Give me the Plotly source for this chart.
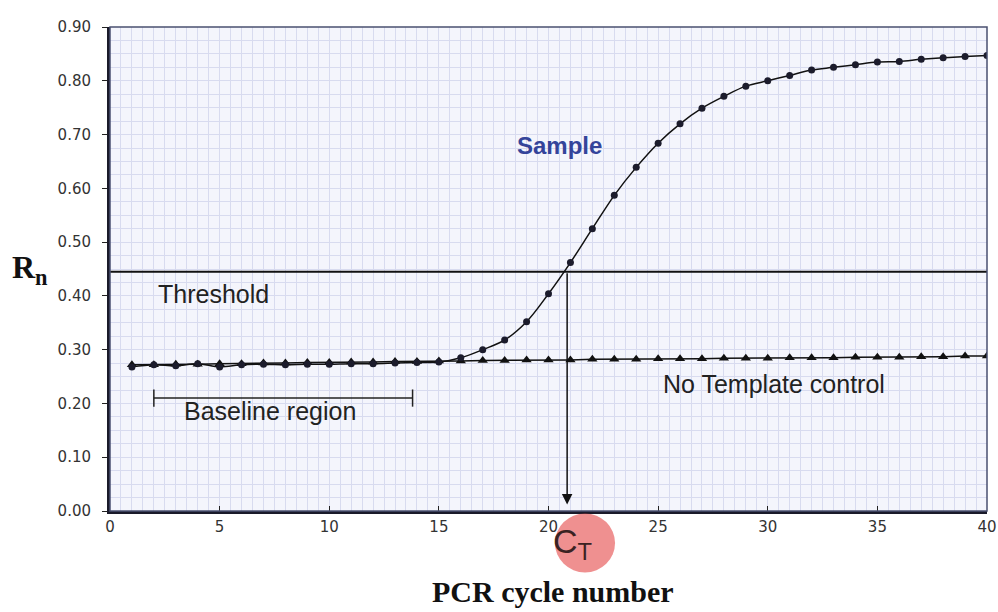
import plotly.graph_objects as go

cycles = list(range(1, 41))
sample_rn = [0.268, 0.272, 0.270, 0.274, 0.268, 0.272, 0.273, 0.272, 0.273, 0.273,
             0.274, 0.274, 0.275, 0.276, 0.277, 0.285, 0.300, 0.318, 0.352, 0.404,
             0.462, 0.525, 0.587, 0.639, 0.684, 0.720, 0.749, 0.771, 0.790, 0.800,
             0.810, 0.820, 0.825, 0.830, 0.835, 0.836, 0.840, 0.843, 0.845, 0.847]
ntc_rn = [0.272, 0.272, 0.273, 0.273, 0.274, 0.274, 0.275, 0.275, 0.276, 0.276,
          0.277, 0.277, 0.278, 0.278, 0.279, 0.279, 0.280, 0.280, 0.281, 0.281,
          0.281, 0.282, 0.282, 0.282, 0.283, 0.283, 0.283, 0.284, 0.284, 0.284,
          0.285, 0.285, 0.285, 0.286, 0.286, 0.286, 0.287, 0.287, 0.288, 0.288]
threshold = 0.445
ct_value = 20.85
baseline_start = 2.0
baseline_end = 13.8
baseline_level = 0.210
x_ticks = [0, 5, 10, 15, 20, 25, 30, 35, 40]
y_ticks = [0.0, 0.1, 0.2, 0.3, 0.4, 0.5, 0.6, 0.7, 0.8, 0.9]

tick_font = dict(family="DejaVu Sans, Verdana, sans-serif", size=15, color="#333333")
label_font = dict(family="Liberation Sans, Arial, sans-serif", size=25, color="#222")
serif_font = dict(family="Liberation Serif, Times New Roman, serif", color="#111")

fig = go.Figure()

# threshold line
fig.add_trace(go.Scatter(x=[0, 40], y=[threshold, threshold], mode="lines",
                         line=dict(color="#111", width=2), hoverinfo="skip"))

# baseline bracket
fig.add_trace(go.Scatter(
    x=[baseline_start, baseline_start, None, baseline_start, baseline_end, None, baseline_end, baseline_end],
    y=[baseline_level + 0.016, baseline_level - 0.016, None, baseline_level, baseline_level, None,
       baseline_level + 0.016, baseline_level - 0.016],
    mode="lines", line=dict(color="#222", width=1.5), hoverinfo="skip"))

# NTC
fig.add_trace(go.Scatter(x=cycles, y=ntc_rn, mode="lines+markers",
                         line=dict(color="#111", width=1.5),
                         marker=dict(symbol="triangle-up", size=9, color="#111")))
# Sample
fig.add_trace(go.Scatter(x=cycles, y=sample_rn, mode="lines+markers",
                         line=dict(color="#111", width=1.5, shape="spline"),
                         marker=dict(symbol="circle", size=7, color="#1c1c2c")))

# arrow from threshold crossing down to axis
fig.add_annotation(x=ct_value, y=0.012, ax=ct_value, ay=threshold, xref="x", yref="y",
                   axref="x", ayref="y", text="", showarrow=True, arrowhead=2,
                   arrowsize=1.4, arrowwidth=1.5, arrowcolor="#111")

# text labels
fig.add_annotation(x=20.5, y=0.68, text="<b>Sample</b>", showarrow=False,
                   xanchor="center", yanchor="middle",
                   font=dict(family="Liberation Sans, Arial, sans-serif", size=24, color="#34449a"))
fig.add_annotation(x=4.7, y=0.404, text="Threshold", showarrow=False,
                   xanchor="center", yanchor="middle", font=label_font)
fig.add_annotation(x=30.27, y=0.237, text="No Template control", showarrow=False,
                   xanchor="center", yanchor="middle", font=label_font)
fig.add_annotation(x=7.3, y=0.186, text="Baseline region", showarrow=False,
                   xanchor="center", yanchor="middle", font=label_font)

# CT circle and label
circ_cx = (585 - 110) / 877 * 40
fig.add_shape(type="circle", xref="x", yref="paper",
              x0=circ_cx - 1.37, x1=circ_cx + 1.37,
              y0=-0.066 - 0.061, y1=-0.066 + 0.061,
              fillcolor="rgba(228,70,70,0.6)", line=dict(width=0), layer="above")
fig.add_annotation(x=circ_cx - 0.55, y=-0.068, xref="x", yref="paper",
                   xanchor="center", yanchor="middle",
                   text="C<sub>T</sub>", showarrow=False,
                   font=dict(family="Liberation Sans, Arial, sans-serif", size=34, color="#3a2222"))

# axis titles
fig.add_annotation(x=-0.091, y=0.50, xref="paper", yref="paper", text="<b>R<sub>n</sub></b>",
                   xanchor="center", yanchor="middle",
                   showarrow=False, font=dict(size=32, **serif_font))
fig.add_annotation(x=0.505, y=-0.167, xref="paper", yref="paper", text="<b>PCR cycle number</b>",
                   xanchor="center", yanchor="middle",
                   showarrow=False, font=dict(size=30, **serif_font))

# plot border (top/right)
fig.add_shape(type="rect", xref="paper", yref="paper", x0=0, x1=1, y0=0, y1=1,
              line=dict(color="#4a5070", width=1.5), layer="above")

grid_col = "#d8dbef"
fig.update_xaxes(range=[0, 40], tickvals=x_ticks, ticktext=[str(v) for v in x_ticks],
                 ticks="inside", ticklen=5, tickcolor="#222", tickfont=tick_font,
                 showline=True, linecolor="#1a1a2a", linewidth=3, automargin=False,
                 showgrid=True, gridcolor=grid_col, gridwidth=1,
                 minor=dict(dtick=0.5, showgrid=True, gridcolor=grid_col, gridwidth=1),
                 zeroline=False, fixedrange=True)
fig.update_yaxes(range=[0, 0.9], tickvals=y_ticks, ticktext=[f"{v:.2f}" for v in y_ticks],
                 ticks="outside", ticklen=5, tickcolor="#222", tickfont=tick_font,
                 ticklabelstandoff=8, automargin=False,
                 showline=True, linecolor="#1a1a2a", linewidth=3,
                 showgrid=True, gridcolor=grid_col, gridwidth=1,
                 minor=dict(dtick=0.025, showgrid=True, gridcolor=grid_col, gridwidth=1),
                 zeroline=False, fixedrange=True)

fig.update_layout(width=998, height=612, showlegend=False,
                  margin=dict(l=110, r=11, t=27, b=101),
                  plot_bgcolor="#f4f5fc", paper_bgcolor="white")

fig.write_html("out.html")
